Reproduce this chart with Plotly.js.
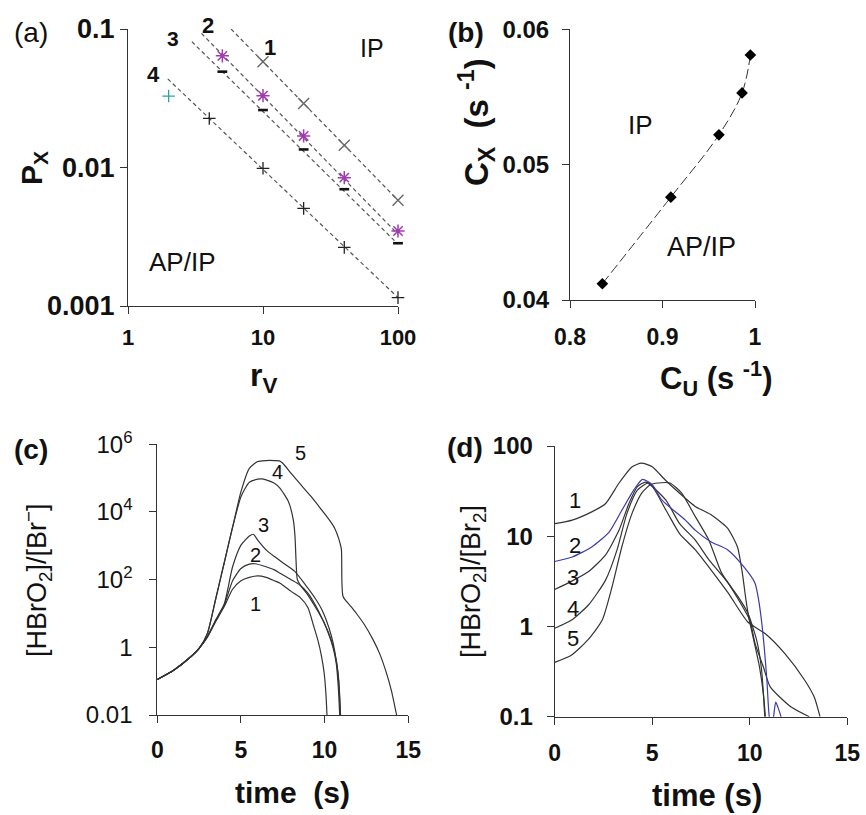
<!DOCTYPE html>
<html><head><meta charset="utf-8">
<script src="https://cdn.plot.ly/plotly-3.0.1.min.js"></script>
<style>html,body{margin:0;padding:0;background:#fff}#plot{width:866px;height:815px}</style>
</head><body><div id="plot"></div>
<script>
// ---------- Panel (a) data ----------
const a_r1 = [10, 20, 40, 100];
const a_p1 = [0.058, 0.029, 0.0145, 0.0058];
const a_r2 = [5, 10, 20, 40, 100];
const a_p2 = [0.064, 0.033, 0.0169, 0.00845, 0.00348];
const a_r3 = [5, 10, 20, 40, 100];
const a_p3 = [0.0492, 0.026, 0.0135, 0.00697, 0.00284];
const a_r4 = [2, 4, 10, 20, 40, 100];
const a_p4 = [0.0328, 0.0226, 0.00987, 0.00507, 0.00265, 0.00115];
const a_fit1_r = [5.8, 100], a_fit1_p = [0.1, 0.0058];
const a_fit2_r = [3.5, 100], a_fit2_p = [0.093, 0.0033];
const a_fit3_r = [2.97, 100], a_fit3_p = [0.081, 0.0028];
const a_fit4_r = [1.97, 100], a_fit4_p = [0.0436, 0.00115];
const a_xticks = [1, 10, 100], a_xlabels = ['1', '10', '100'];
const a_yticks = [0.001, 0.01, 0.1], a_ylabels = ['0.001', '0.01', '0.1'];

// ---------- Panel (b) data ----------
const b_cu = [0.835, 0.909, 0.961, 0.986, 0.995];
const b_cx = [0.0412, 0.0476, 0.0522, 0.0553, 0.0581];
const b_xticks = [0.8, 0.9, 1.0], b_xlabels = ['0.8', '0.9', '1'];
const b_yticks = [0.04, 0.05, 0.06], b_ylabels = ['0.04', '0.05', '0.06'];

// ---------- Panel (c) data ----------
const c1_t = [0, 1, 2, 2.5, 3, 3.5, 4, 4.5, 5, 5.5, 6, 6.5, 7, 7.34, 8.0, 8.53, 9.0, 9.33, 9.6, 9.82, 9.98, 10.08, 10.14];
const c1_v = [0.112, 0.214, 0.525, 0.933, 2.0, 5.9, 16, 52, 93, 117, 129, 117, 93, 78, 45, 30, 15, 4.5, 1.6, 0.52, 0.16, 0.04, 0.01];
const c2_t = [0, 1, 2, 2.5, 3, 3.5, 4, 4.5, 5, 5.5, 5.84, 6.5, 7, 7.34, 8.0, 8.5, 9.0, 9.5, 9.9, 10.2, 10.5, 10.7, 10.82, 10.9];
const c2_v = [0.112, 0.214, 0.525, 0.933, 2.09, 6.3, 17.8, 93, 214, 288, 295, 240, 195, 155, 100, 71, 40, 15.8, 6.3, 2.8, 1.0, 0.32, 0.063, 0.01];
const c3_t = [0, 1, 2, 2.5, 3, 3.5, 4, 4.5, 5, 5.5, 5.74, 6.0, 6.5, 7, 7.5, 8.2, 9.0, 9.5, 9.8, 10.1, 10.4, 10.6, 10.8, 10.95];
const c3_v = [0.112, 0.214, 0.525, 0.933, 2.14, 6.6, 19, 240, 1050, 1950, 2190, 1480, 760, 480, 316, 178, 56, 25, 14, 6.3, 2.2, 0.79, 0.16, 0.01];
const c4_t = [0, 1, 2, 2.5, 3, 3.5, 4, 4.5, 5, 5.5, 6, 6.24, 6.5, 7, 7.34, 7.84, 8.13, 8.23, 8.29, 8.37, 8.6, 9.0, 9.5, 10.0, 10.4, 10.7, 10.85, 10.95];
const c4_v = [0.112, 0.214, 0.525, 0.933, 2.63, 28.2, 316, 3550, 28200, 75900, 93300, 95500, 89100, 70800, 50100, 20000, 5750, 1860, 380, 100, 63, 35, 14, 5, 1.6, 0.4, 0.1, 0.01];
const c5_t = [0, 1, 2, 2.5, 3, 3.5, 4, 4.5, 5, 5.5, 6, 6.5, 7, 7.3, 7.5, 8.0, 8.5, 9.2, 9.9, 10.3, 10.6, 10.85, 11.0, 11.1, 11.5, 11.9, 12.4, 12.9, 13.3, 13.7, 14.0, 14.3];
const c5_v = [0.112, 0.214, 0.525, 0.933, 2.63, 28.2, 316, 3550, 39800, 195000, 309000, 331000, 331000, 324000, 275000, 138000, 70800, 28200, 10200, 5620, 3310, 1580, 794, 31.6, 17.8, 10, 4.5, 1.66, 0.63, 0.17, 0.05, 0.01];
const c_xticks = [0, 5, 10, 15];
const c_yticks = [0.01, 1, 100, 1e4, 1e6];
const c_ylabels = ['0.01', '1', '10<sup>2</sup>', '10<sup>4</sup>', '10<sup>6</sup>'];

// ---------- Panel (d) data ----------
const d1_t = [0, 0.9, 1.9, 2.6, 3.3, 3.97, 4.45, 5.0, 5.68, 6.7, 7.2, 8.0, 8.86, 9.37, 9.62, 9.8, 9.95, 10.2, 10.5, 10.7, 10.8];
const d1_v = [13.8, 15.1, 18.6, 22.9, 38.9, 58.9, 64.6, 58.9, 41.7, 26.3, 21.4, 17.4, 12.3, 7.6, 3.9, 2.0, 1.26, 0.71, 0.355, 0.178, 0.1];
const d2_t = [0, 0.9, 1.9, 2.8, 3.45, 4.05, 4.5, 5.0, 5.5, 6.7, 7.2, 8.0, 8.86, 9.7, 10.27, 10.45, 10.6, 10.75, 10.88, 11.0, 11.12, 11.22, 11.33, 11.45, 11.6, 11.7];
const d2_v = [5.25, 5.89, 7.59, 11.2, 19.5, 32.4, 42.7, 37.2, 25.1, 15.1, 11.7, 8.7, 7.1, 4.57, 3.02, 2.0, 1.17, 0.56, 0.25, 0.1, 0.079, 0.1, 0.145, 0.126, 0.1, 0.079];
const d3_t = [0, 0.85, 1.74, 2.6, 3.3, 3.8, 4.24, 4.67, 5.7, 6.4, 7.2, 7.9, 8.9, 10.0, 10.27, 10.7, 11.05, 12.1, 13.05];
const d3_v = [2.57, 3.16, 4.07, 6.17, 11.7, 22.9, 35.5, 39.8, 25.1, 13.8, 9.1, 5.5, 3.0, 1.17, 0.65, 0.355, 0.214, 0.129, 0.1];
const d4_t = [0, 0.85, 1.74, 2.6, 3.2, 3.7, 4.24, 4.84, 5.7, 6.4, 7.2, 8.0, 8.9, 9.9, 10.8, 11.8, 12.8, 13.3, 13.6];
const d4_v = [0.955, 1.17, 1.74, 3.24, 7.1, 17.8, 32.4, 38.9, 19.5, 10.7, 7.1, 4.27, 2.34, 1.12, 0.83, 0.5, 0.257, 0.166, 0.1];
const d5_t = [0, 0.85, 1.7, 2.43, 2.94, 3.44, 3.96, 4.47, 4.9, 5.3, 5.9, 6.5, 7.2, 7.9, 8.56, 9.4, 9.9, 10.35, 10.6, 10.77];
const d5_v = [0.4, 0.48, 0.71, 1.17, 2.75, 7.6, 17.8, 30.2, 37.2, 38.9, 38.9, 30.2, 16.6, 9.1, 3.9, 2.14, 1.41, 0.71, 0.34, 0.1];
const d_xticks = [0, 5, 10, 15];
const d_yticks = [0.1, 1, 10, 100], d_ylabels = ['0.1', '1', '10', '100'];

// ---------- helpers ----------
const W = 866, H = 815;
const PX = v => v / W, PY = v => 1 - v / H;
const FAM = 'Liberation Sans, Arial, sans-serif';
const AX = '#333';

function axisBase(extra) {
  return Object.assign({
    showline: true, linecolor: AX, linewidth: 1, ticks: 'outside', ticklen: 7,
    tickcolor: AX, tickwidth: 1, showgrid: false, zeroline: false, mirror: false,
    fixedrange: true, automargin: false
  }, extra);
}
const dashLine = {color: '#555', width: 1.2, dash: '4px,3px'};
const curve = {color: '#333', width: 1.2, shape: 'spline', smoothing: 0.6};

const traces = [
  // (a) fits
  {x: a_fit1_r, y: a_fit1_p, mode: 'lines', line: dashLine, xaxis: 'x', yaxis: 'y'},
  {x: a_fit2_r, y: a_fit2_p, mode: 'lines', line: dashLine, xaxis: 'x', yaxis: 'y'},
  {x: a_fit3_r, y: a_fit3_p, mode: 'lines', line: dashLine, xaxis: 'x', yaxis: 'y'},
  {x: a_fit4_r, y: a_fit4_p, mode: 'lines', line: dashLine, xaxis: 'x', yaxis: 'y'},
  // (a) points
  {x: a_r1, y: a_p1, mode: 'markers', xaxis: 'x', yaxis: 'y', cliponaxis: false,
   marker: {symbol: 'x-thin-open', size: 11, color: '#666', line: {width: 1.4}}},
  {x: a_r2, y: a_p2, mode: 'markers', xaxis: 'x', yaxis: 'y', cliponaxis: false,
   marker: {symbol: 'asterisk-open', size: 11, color: '#a03cb0', line: {width: 1.5}}},
  {x: a_r3, y: a_p3, mode: 'markers', xaxis: 'x', yaxis: 'y', cliponaxis: false,
   marker: {symbol: 'line-ew-open', size: 7, color: '#111', line: {width: 2.6}}},
  {x: a_r4, y: a_p4, mode: 'markers', xaxis: 'x', yaxis: 'y', cliponaxis: false,
   marker: {symbol: 'cross-thin-open', size: 9, color: ['#2aa5a5', '#222', '#222', '#222', '#222', '#222'], line: {width: 1.3}}},
  // (b)
  {x: b_cu, y: b_cx, mode: 'lines+markers', xaxis: 'x2', yaxis: 'y2', cliponaxis: false,
   line: {color: '#333', width: 1, dash: '10px,4px', shape: 'spline'},
   marker: {symbol: 'diamond', size: 9, color: '#000'}},
  // (c)
  {x: c1_t, y: c1_v, mode: 'lines', line: curve, xaxis: 'x3', yaxis: 'y3'},
  {x: c2_t, y: c2_v, mode: 'lines', line: curve, xaxis: 'x3', yaxis: 'y3'},
  {x: c3_t, y: c3_v, mode: 'lines', line: curve, xaxis: 'x3', yaxis: 'y3'},
  {x: c4_t, y: c4_v, mode: 'lines', line: curve, xaxis: 'x3', yaxis: 'y3'},
  {x: c5_t, y: c5_v, mode: 'lines', line: curve, xaxis: 'x3', yaxis: 'y3'},
  // (d)
  {x: d1_t, y: d1_v, mode: 'lines', line: curve, xaxis: 'x4', yaxis: 'y4'},
  {x: d3_t, y: d3_v, mode: 'lines', line: curve, xaxis: 'x4', yaxis: 'y4'},
  {x: d4_t, y: d4_v, mode: 'lines', line: curve, xaxis: 'x4', yaxis: 'y4'},
  {x: d5_t, y: d5_v, mode: 'lines', line: curve, xaxis: 'x4', yaxis: 'y4'},
  {x: d2_t, y: d2_v, mode: 'lines', line: {color: '#3a3aa8', width: 1.2, shape: 'spline', smoothing: 0.6}, xaxis: 'x4', yaxis: 'y4'}
];

const boldTick = s => ({family: FAM, size: s, color: '#111', weight: 'bold'});
const normTick = s => ({family: FAM, size: s, color: '#111'});

function ann(text, x, y, size, bold, extra) {
  return Object.assign({
    text: text, x: PX(x), y: PY(y), xref: 'paper', yref: 'paper', showarrow: false,
    xanchor: 'center', yanchor: 'middle',
    font: {family: FAM, size: size, color: '#111', weight: bold ? 'bold' : 'normal'}
  }, extra || {});
}

const layout = {
  width: W, height: H, margin: {l: 0, r: 0, t: 0, b: 0},
  paper_bgcolor: '#fff', plot_bgcolor: 'rgba(0,0,0,0)', showlegend: false,
  xaxis: axisBase({domain: [PX(128), PX(398)], type: 'log', range: [0, 2], anchor: 'y',
    tickvals: a_xticks, ticktext: a_xlabels, tickfont: boldTick(22), ticklabelstandoff: 5}),
  yaxis: axisBase({domain: [PY(306), PY(29)], type: 'log', range: [-3, -1], anchor: 'x',
    tickvals: a_yticks, ticktext: a_ylabels, tickfont: boldTick(27)}),
  xaxis2: axisBase({domain: [PX(570), PX(755)], range: [0.8, 1.0], anchor: 'y2',
    tickvals: b_xticks, ticktext: b_xlabels, tickfont: boldTick(23), ticklabelstandoff: 9}),
  yaxis2: axisBase({domain: [PY(300), PY(29.3)], range: [0.04, 0.06], anchor: 'x2',
    tickvals: b_yticks, ticktext: b_ylabels, tickfont: boldTick(24), ticklabelstandoff: 8}),
  xaxis3: axisBase({domain: [PX(157.3), PX(408.3)], range: [0, 15], anchor: 'y3',
    tickvals: c_xticks, tickfont: boldTick(23), ticklabelstandoff: 7}),
  yaxis3: axisBase({domain: [PY(715), PY(444.3)], type: 'log', range: [-2, 6], anchor: 'x3',
    tickvals: c_yticks, ticktext: c_ylabels, tickfont: normTick(24), ticklabelstandoff: 12}),
  xaxis4: axisBase({domain: [PX(554.7), PX(847.3)], range: [0, 15], anchor: 'y4',
    tickvals: d_xticks, tickfont: boldTick(23), ticklabelstandoff: 9}),
  yaxis4: axisBase({domain: [PY(716.7), PY(446)], type: 'log', range: [-1, 2], anchor: 'x4',
    tickvals: d_yticks, ticktext: d_ylabels, tickfont: boldTick(24), ticklabelstandoff: 9}),
  annotations: [
    // panel letters
    ann('(a)', 31, 33, 28, false),
    ann('(b)', 466, 33, 28, true),
    ann('(c)', 31, 449, 28, true),
    ann('(d)', 465, 447, 28, true),
    // (a)
    ann('P<sub>X</sub>', 33, 168, 30, true, {textangle: -90}),
    ann('r<sub>V</sub>', 263, 377, 32, true),
    ann('1', 270, 47, 22, true), ann('2', 208, 25, 22, true),
    ann('3', 173, 39, 21, true), ann('4', 153, 74, 22, true),
    ann('IP', 372, 48, 25, false), ann('AP/IP', 182, 262, 26, false),
    // (b)
    ann('C<sub>X</sub>&nbsp;&nbsp;(s&nbsp;<sup>-1</sup>)', 476, 122, 33, true, {textangle: -90}),
    ann('C<sub>U</sub>&nbsp;(s&nbsp;<sup>-1</sup>)', 716, 378, 31, true),
    ann('IP', 640, 125, 26, false), ann('AP/IP', 701, 247, 27, false),
    // (c)
    ann('[HBrO<sub>2</sub>]/[Br<sup>−</sup>]', 37, 580, 27, false, {textangle: -90}),
    ann('time  (s)', 292, 792, 30, true),
    ann('5', 300, 453, 20, false), ann('4', 277, 472, 20, false),
    ann('3', 263, 525, 20, false), ann('2', 255, 555, 20, false), ann('1', 255, 604, 20, false),
    // (d)
    ann('[HBrO<sub>2</sub>]/[Br<sub>2</sub>]', 473, 582, 27, false, {textangle: -90}),
    ann('time (s)', 707, 795, 31, true),
    ann('1', 575, 500, 22, false), ann('2', 575, 545, 22, false),
    ann('3', 573, 577, 22, false), ann('4', 573, 608, 22, false), ann('5', 573, 638, 22, false)
  ]
};

Plotly.newPlot('plot', traces, layout, {staticPlot: true, displayModeBar: false});
</script></body></html>
